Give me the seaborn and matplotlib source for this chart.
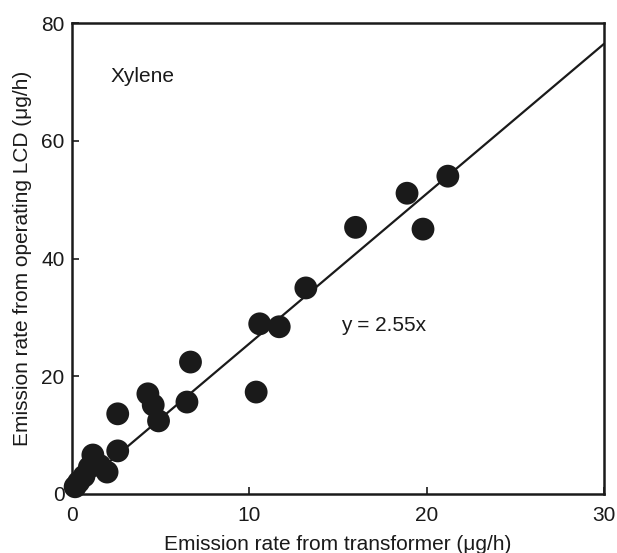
import pandas as pd
import seaborn as sns
import matplotlib.pyplot as plt

# Emission rates (ug/h)
transformer = [0.2, 0.4, 0.7, 1.0, 1.2, 1.6, 2.0, 2.6, 2.6, 4.3, 4.6, 4.9,
               6.5, 6.7, 10.4, 10.6, 11.7, 13.2, 16.0, 18.9, 19.8, 21.2]
lcd = [1.2, 2.0, 3.0, 4.5, 6.6, 4.8, 3.7, 7.3, 13.6, 17.0, 15.1, 12.4,
       15.6, 22.4, 17.3, 28.9, 28.4, 35.0, 45.3, 51.1, 45.0, 54.0]
slope = 2.55
fit_x = [0, 30]

df = pd.DataFrame({"Transformer": transformer, "LCD": lcd})
fit = pd.DataFrame({"x": fit_x, "y": [slope * v for v in fit_x]})

sns.set_style("ticks")
plt.rcParams["font.family"] = ["Liberation Sans", "DejaVu Sans"]

fig = plt.figure(figsize=(6.17, 5.53), dpi=100)
ax = fig.add_axes([0.116, 0.107, 0.863, 0.851])

sns.lineplot(data=fit, x="x", y="y", color="#1a1a1a", linewidth=1.6, ax=ax)
sns.scatterplot(data=df, x="Transformer", y="LCD", color="#1a1a1a", s=270,
                edgecolor="none", ax=ax, zorder=3, clip_on=False)

fs = 15
ax.set_xlim(0, 30)
ax.set_ylim(0, 80)
ax.set_xticks([0, 10, 20, 30])
ax.set_yticks([0, 20, 40, 60, 80])
ax.tick_params(direction="in", length=5, width=1.2, labelsize=fs, colors="#1a1a1a")
ax.tick_params(axis="x", pad=9)
ax.tick_params(axis="y", pad=5)
for s in ax.spines.values():
    s.set_visible(True)
    s.set_linewidth(1.8)
    s.set_color("#1a1a1a")

ax.set_xlabel("Emission rate from transformer (μg/h)", fontsize=fs, color="#1a1a1a", labelpad=7)
ax.set_ylabel("Emission rate from operating LCD (μg/h)", fontsize=fs, color="#1a1a1a", labelpad=7)
ax.text(2.2, 71, "Xylene", fontsize=fs, color="#1a1a1a", va="center")
ax.text(15.2, 28.6, "y = 2.55x", fontsize=fs, color="#1a1a1a", va="center")

fig.savefig("out.png", dpi=100)
